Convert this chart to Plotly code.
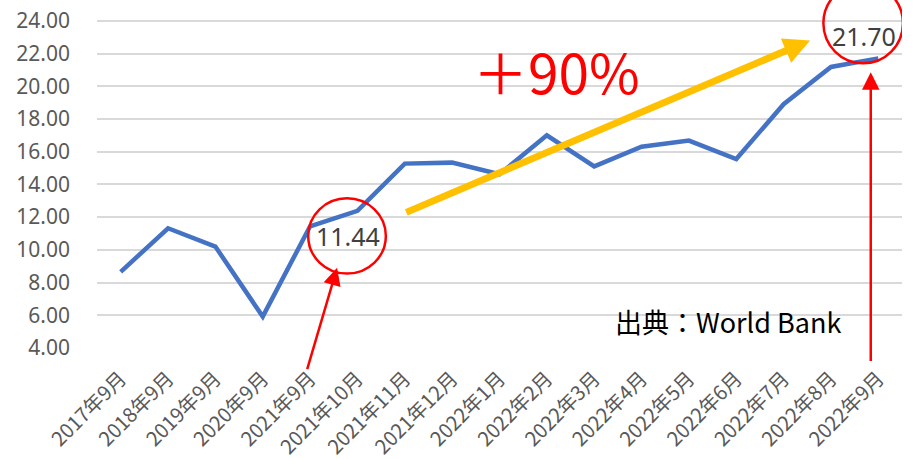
import plotly.graph_objects as go

months = ["2017年9月", "2018年9月", "2019年9月", "2020年9月", "2021年9月",
          "2021年10月", "2021年11月", "2021年12月", "2022年1月", "2022年2月",
          "2022年3月", "2022年4月", "2022年5月", "2022年6月", "2022年7月",
          "2022年8月", "2022年9月"]
values = [8.65, 11.32, 10.2, 5.92, 11.44, 12.38, 15.27, 15.33, 14.62, 17.0,
          15.1, 16.3, 16.68, 15.55, 18.9, 21.18, 21.70]
y_ticks = [4, 6, 8, 10, 12, 14, 16, 18, 20, 22, 24]

JP = "Noto Sans CJK JP"
LAT = "Noto Sans"

fig = go.Figure()
fig.add_trace(go.Scatter(
    x=list(range(len(months))), y=values, mode="lines",
    line=dict(color="#4472C4", width=4.5), hoverinfo="skip", showlegend=False,
))

i_start = months.index("2021年9月")
i_end = months.index("2022年9月")

annotations = [
    # value labels
    dict(x=i_start + 0.8, y=values[i_start] - 0.6, text=f"{values[i_start]:.2f}",
         showarrow=False, font=dict(family=LAT, size=25, color="#404040")),
    dict(x=i_end - 0.3, y=values[i_end] + 1.35, text=f"{values[i_end]:.2f}",
         showarrow=False, font=dict(family=LAT, size=25, color="#404040")),
    # +90%
    dict(x=9.2, y=21.0, text="＋90%", showarrow=False,
         font=dict(family=JP, size=55, color="#FF0000")),
    # source
    dict(x=12.83, y=5.6, text="出典：World Bank", showarrow=False,
         font=dict(family=JP, size=27, color="#000000")),
    # yellow arrow
    dict(x=14.56, y=22.8, ax=6.0, ay=12.25, xref="x", yref="y", axref="x", ayref="y",
         showarrow=True, arrowhead=2, arrowsize=0.75, arrowwidth=7, arrowcolor="#FFC000",
         text=""),
    # red arrows
    dict(x=4.57, y=8.9, ax=3.93, ay=2.62, xref="x", yref="y", axref="x", ayref="y",
         showarrow=True, arrowhead=2, arrowsize=1.4, arrowwidth=2.5, arrowcolor="#FF0000",
         text=""),
    dict(x=15.84, y=20.85, ax=15.84, ay=3.12, xref="x", yref="y", axref="x", ayref="y",
         showarrow=True, arrowhead=2, arrowsize=1.4, arrowwidth=2.5, arrowcolor="#FF0000",
         text=""),
]

shapes = [
    dict(type="circle", xref="x", yref="y", x0=3.96, x1=5.60, y0=8.55, y1=13.15,
         line=dict(color="#FF0000", width=2.5)),
    dict(type="circle", xref="x", yref="y", x0=14.84, x1=16.52, y0=21.4, y1=26.3,
         line=dict(color="#FF0000", width=2.5)),
]

fig.update_layout(
    width=916, height=459,
    margin=dict(l=97, r=14, t=0, b=111),
    plot_bgcolor="white", paper_bgcolor="white",
    showlegend=False,
    annotations=annotations, shapes=shapes,
    xaxis=dict(
        tickmode="array", tickvals=list(range(len(months))), ticktext=months,
        range=[-0.5, len(months) - 0.5], tickangle=-45,
        tickfont=dict(family=JP, size=20, color="#595959"),
        showgrid=False, zeroline=False, showline=False, ticks="",
        ticklabelstandoff=14, automargin=False,
    ),
    yaxis=dict(
        tickmode="array", tickvals=y_ticks, ticktext=[f"{v:.2f}" for v in y_ticks],
        range=[4, 25.27],
        tickfont=dict(family=LAT, size=21, color="#595959"),
        showgrid=True, gridcolor="#D9D9D9", gridwidth=1.5,
        zeroline=False, showline=False, ticks="",
        ticklabelstandoff=26, automargin=False,
    ),
)

fig.write_html(
    "out.html",
    config={"displayModeBar": False},
    post_script="document.body.style.margin='0';document.body.style.overflow='hidden';",
)
